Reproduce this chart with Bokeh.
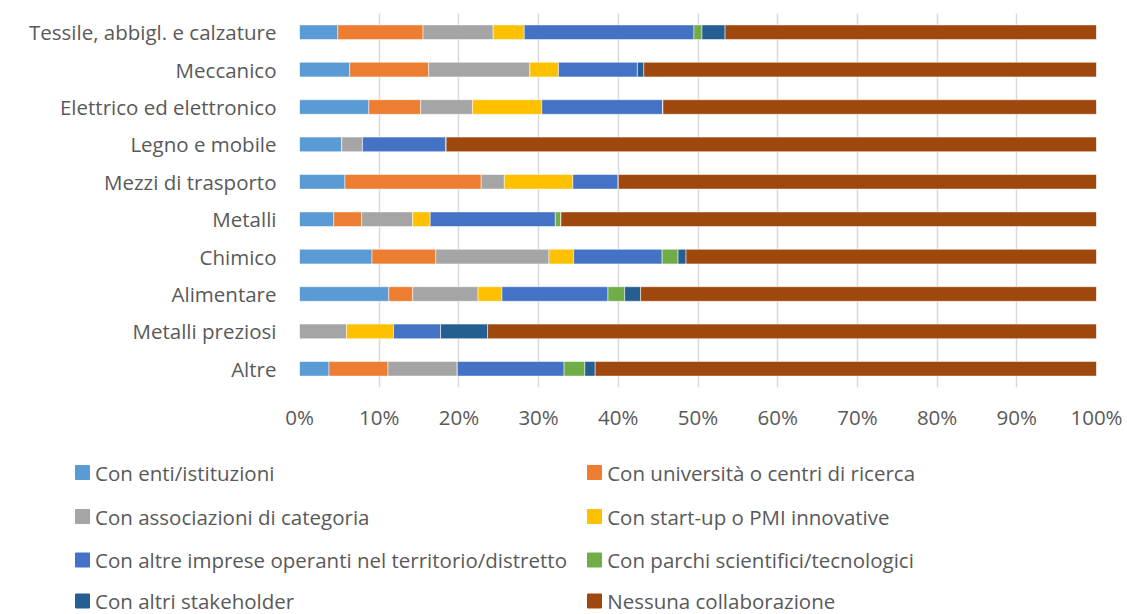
from bokeh.plotting import figure
from bokeh.models import FactorRange, Range1d, NumeralTickFormatter, FixedTicker, ColumnDataSource
from bokeh.core.properties import value
from bokeh.embed import file_html
from bokeh.resources import INLINE

categories = [
    "Tessile, abbigl. e calzature",
    "Meccanico",
    "Elettrico ed elettronico",
    "Legno e mobile",
    "Mezzi di trasporto",
    "Metalli",
    "Chimico",
    "Alimentare",
    "Metalli preziosi",
    "Altre",
]

series_names = [
    "Con enti/istituzioni",
    "Con università o centri di ricerca",
    "Con associazioni di categoria",
    "Con start-up o PMI innovative",
    "Con altre imprese operanti nel territorio/distretto",
    "Con parchi scientifici/tecnologici",
    "Con altri stakeholder",
    "Nessuna collaborazione",
]

# values in percent, one list per series (same order as categories)
enti = [4.8, 6.3, 8.7, 5.3, 5.7, 4.3, 9.1, 11.2, 0.0, 3.7]
universita = [10.7, 9.9, 6.5, 0.0, 17.1, 3.5, 8.0, 3.0, 0.0, 7.4]
associazioni = [8.8, 12.7, 6.5, 2.6, 2.9, 6.4, 14.2, 8.2, 5.9, 8.7]
startup = [3.9, 3.6, 8.7, 0.0, 8.6, 2.2, 3.1, 3.0, 5.9, 0.0]
altre_imprese = [21.3, 9.9, 15.2, 10.5, 5.7, 15.7, 11.1, 13.3, 5.9, 13.4]
parchi = [1.0, 0.0, 0.0, 0.0, 0.0, 0.7, 2.0, 2.1, 0.0, 2.6]
stakeholder = [2.9, 0.8, 0.0, 0.0, 0.0, 0.0, 1.0, 2.0, 5.9, 1.3]
nessuna = [46.6, 56.8, 54.4, 81.6, 60.0, 67.2, 51.5, 57.2, 76.4, 62.9]

x_ticks = [0, 10, 20, 30, 40, 50, 60, 70, 80, 90, 100]

colors = ["#5B9BD5", "#ED7D31", "#A5A5A5", "#FFC000", "#4472C4", "#70AD47", "#255E91", "#9E480E"]

FONT = "Open Sans"
TXT = "#595959"
FS = "20.5px"

series_values = [enti, universita, associazioni, startup, altre_imprese, parchi, stakeholder, nessuna]
keys = ["s%d" % i for i in range(len(series_values))]
data = {"cat": categories}
for k, vals in zip(keys, series_values):
    data[k] = [v / 100.0 for v in vals]
source = ColumnDataSource(data)

W = 1127
H1 = 448
p = figure(
    width=W, height=H1,
    y_range=FactorRange(*list(reversed(categories)), range_padding=0),
    x_range=Range1d(0, 1),
    output_backend="svg", toolbar_location=None,
    min_border_left=299, min_border_right=31, min_border_top=13, min_border_bottom=61,
)
p.hbar_stack(keys, y="cat", height=0.39, color=colors, source=source,
             line_color="white", line_width=0.5)

tick_pos = [t / 100.0 for t in x_ticks]
p.xaxis.ticker = FixedTicker(ticks=tick_pos)
p.xgrid.ticker = FixedTicker(ticks=tick_pos)
p.xaxis.formatter = NumeralTickFormatter(format="0%")
p.xgrid.grid_line_color = "#D9D9D9"
p.xgrid.grid_line_width = 1.5
p.ygrid.grid_line_color = None
for ax in (p.xaxis, p.yaxis):
    ax.axis_line_color = None
    ax.major_tick_line_color = None
    ax.minor_tick_line_color = None
    ax.major_tick_out = 0
    ax.major_tick_in = 0
    ax.minor_tick_out = 0
    ax.major_label_text_font = FONT
    ax.major_label_text_font_size = FS
    ax.major_label_text_color = TXT
p.yaxis.major_label_standoff = 23
p.xaxis.major_label_standoff = 15
p.outline_line_color = None

# legend drawn in a second root laid out in pixel coordinates
H2 = 614 - H1
leg = figure(
    width=W, height=H2,
    x_range=Range1d(0, W), y_range=Range1d(H2, 0),
    output_backend="svg", toolbar_location=None,
    min_border=0, min_border_left=0, min_border_right=0, min_border_top=0, min_border_bottom=0,
)
leg.axis.visible = False
leg.grid.grid_line_color = None
leg.outline_line_color = None

col_sq_x = [82, 594]
col_tx_x = [94.5, 606.7]
row_y = [24, 68, 111.5, 152.5]
sq_x, sq_y, tx_x, tx_y = [], [], [], []
for i, name in enumerate(series_names):
    r, c = divmod(i, 2)
    sq_x.append(col_sq_x[c]); sq_y.append(row_y[r])
    tx_x.append(col_tx_x[c]); tx_y.append(row_y[r])
lsrc = ColumnDataSource(dict(sx=sq_x, sy=sq_y, tx=tx_x, ty=tx_y, label=series_names, color=colors))
leg.rect(x="sx", y="sy", width=14, height=14, color="color", source=lsrc)
leg.text(x="tx", y="ty", text="label", source=lsrc, text_font=value(FONT), text_font_size=FS,
         text_color=TXT, text_baseline="middle", text_align="left")

open("out.html", "w").write(file_html([p, leg], INLINE))
